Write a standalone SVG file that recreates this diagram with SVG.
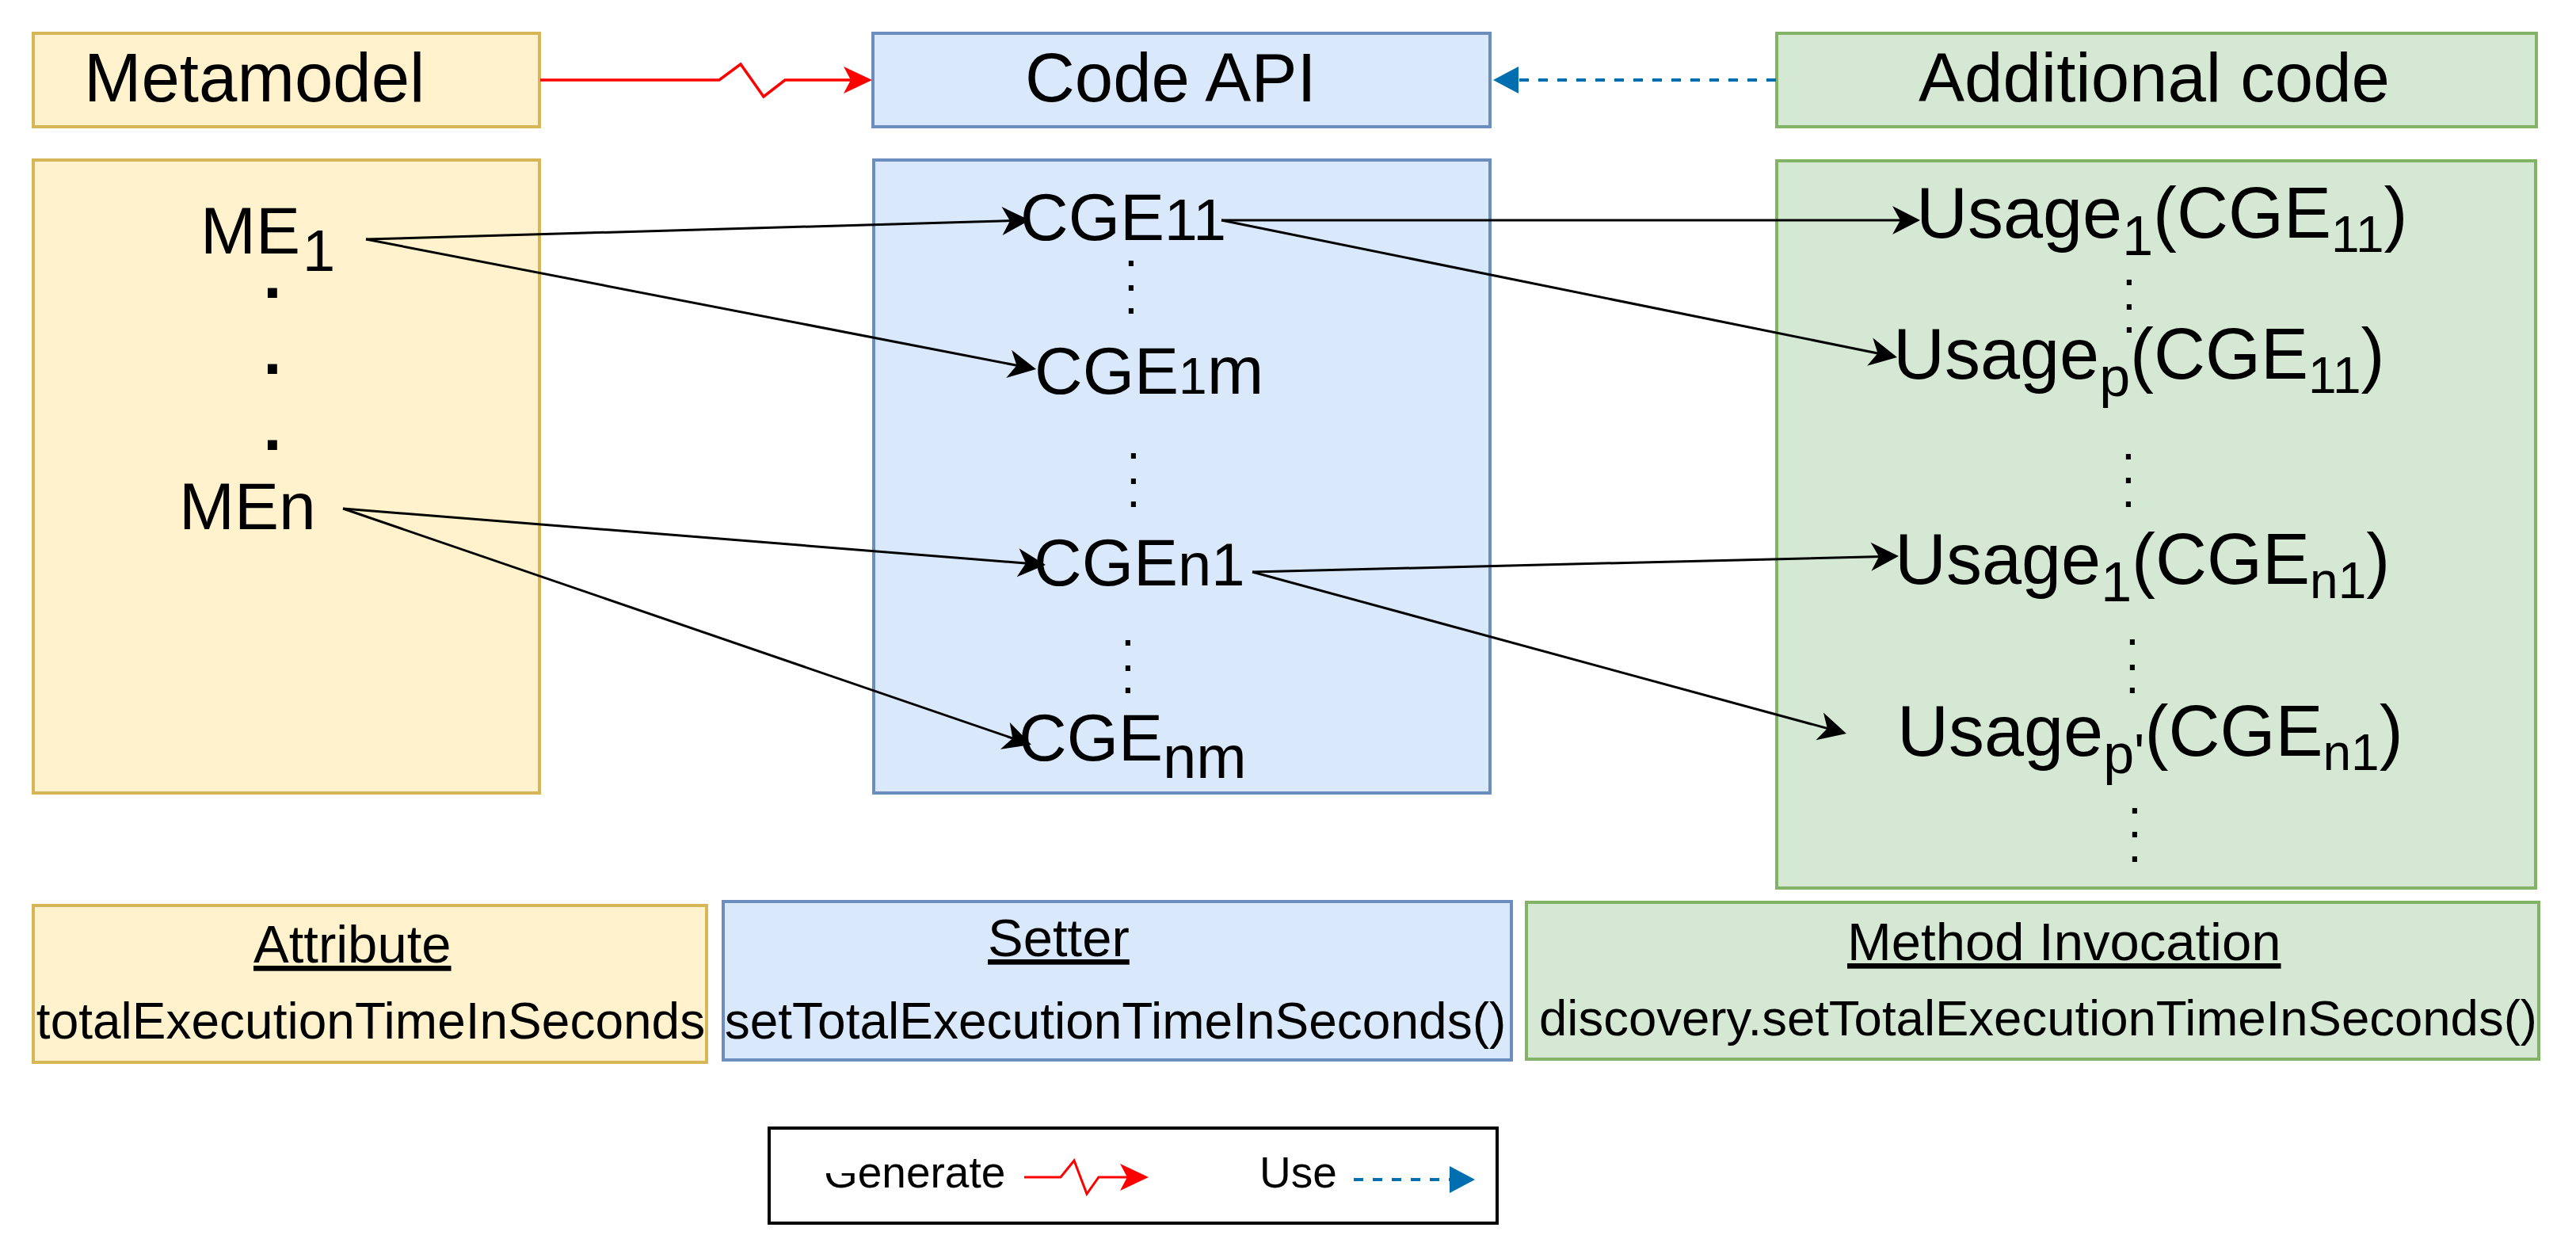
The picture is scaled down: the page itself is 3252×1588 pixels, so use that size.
<svg xmlns="http://www.w3.org/2000/svg" width="3252" height="1588" viewBox="0 0 3252 1588">
<defs>
<style>
text { font-family: "Liberation Sans", Arial, sans-serif; fill: #000000; }
.y { fill: #FFF2CC; stroke: #D6B656; stroke-width: 4; }
.b { fill: #DAE8FC; stroke: #6C8EBF; stroke-width: 4; }
.g { fill: #D5E8D4; stroke: #82B366; stroke-width: 4; }
.legend { fill: #FFFFFF; stroke: #000000; stroke-width: 4; }
.t86 { font-size: 87px; }
.t84 { font-size: 84px; }
.u88 { font-size: 90px; }
.dot { font-size: 64px; text-anchor: middle; }
.bdot { font-size: 84px; font-weight: bold; text-anchor: middle; }
.hdr { font-size: 67px; text-decoration: underline; }
.body { font-size: 64px; text-anchor: middle; }
.lg { font-size: 55px; }
.edge { fill: none; stroke: #000000; stroke-width: 3; marker-end: url(#arrowBlack); }
.gen { fill: none; stroke: #FF0000; stroke-width: 3.5; marker-end: url(#arrowRed); }
.use { fill: none; stroke: #006EAF; stroke-width: 4; stroke-dasharray: 12 12; marker-end: url(#arrowBlue); }
</style>
<marker id="arrowBlack" viewBox="-40 -20 44 40" markerWidth="44" markerHeight="40" refX="-10" refY="0" orient="auto" markerUnits="userSpaceOnUse">
<path d="M0,0 L-35,-18 L-25,0 L-35,18 Z" fill="#000000"/>
</marker>
<marker id="arrowRed" viewBox="-40 -20 44 40" markerWidth="44" markerHeight="40" refX="-10" refY="0" orient="auto" markerUnits="userSpaceOnUse">
<path d="M0,0 L-36,-17 L-27,0 L-36,17 Z" fill="#FF0000"/>
</marker>
<marker id="arrowBlue" viewBox="-40 -20 44 40" markerWidth="44" markerHeight="40" refX="-10" refY="0" orient="auto" markerUnits="userSpaceOnUse">
<path d="M0,0 L-32,-17 L-32,17 Z" fill="#006EAF"/>
</marker>
<clipPath id="genClip">
<path d="M1082,1400 H1300 V1560 H1082 Z M900,1481 H1300 V1560 H900 Z"/>
</clipPath>
</defs>
<rect x="0" y="0" width="3252" height="1588" fill="#FFFFFF"/>

<g id="metamodel">
<rect class="y" x="42" y="42" width="639" height="118"/>
<text class="t86" x="106" y="128">Metamodel</text>
</g>
<g id="code-api">
<rect class="b" x="1102" y="42" width="779" height="118"/>
<text class="t86" x="1294" y="128">Code API</text>
</g>
<g id="additional-code">
<rect class="g" x="2243" y="42" width="959" height="118"/>
<text class="t86" x="2422" y="128">Additional code</text>
</g>

<g id="metamodel-elements">
<rect class="y" x="42" y="202" width="639" height="799"/>
<text class="t84" x="253" y="320">ME<tspan font-size="74" dy="22" dx="3">1</tspan></text>
<text class="bdot"><tspan x="344" y="376">.</tspan><tspan x="344" y="472">.</tspan><tspan x="344" y="568">.</tspan></text>
<text class="t84" x="226" y="668">MEn</text>
</g>

<g id="code-api-elements">
<rect class="b" x="1103" y="202" width="778" height="799"/>
<text class="t84" x="1288" y="303">CGE<tspan font-size="75">11</tspan></text>
<text class="dot"><tspan x="1428" y="336">.</tspan><tspan x="1428" y="367">.</tspan><tspan x="1428" y="396">.</tspan></text>
<text class="t84" x="1306" y="497">CGE<tspan font-size="64">1</tspan><tspan font-size="86">m</tspan></text>
<text class="dot"><tspan x="1431" y="579">.</tspan><tspan x="1431" y="611">.</tspan><tspan x="1431" y="640">.</tspan></text>
<text class="t84" x="1305" y="739">CGE<tspan font-size="76">n1</tspan></text>
<text class="dot"><tspan x="1424" y="815">.</tspan><tspan x="1424" y="847">.</tspan><tspan x="1424" y="875">.</tspan></text>
<text class="t84" x="1286" y="960">CGE<tspan font-size="76" dy="22">nm</tspan></text>
</g>

<g id="additional-code-elements">
<rect class="g" x="2243" y="203" width="958" height="918"/>
<text class="u88" x="2419" y="300">Usage<tspan font-size="70" dy="22">1</tspan><tspan dy="-22">(CGE</tspan><tspan font-size="64" dy="18">11</tspan><tspan dy="-18">)</tspan></text>
<text class="dot"><tspan x="2688" y="360">.</tspan><tspan x="2688" y="391">.</tspan><tspan x="2688" y="420">.</tspan></text>
<text class="u88" x="2390" y="478">Usage<tspan font-size="70" dy="22">p</tspan><tspan dy="-22">(CGE</tspan><tspan font-size="64" dy="18">11</tspan><tspan dy="-18">)</tspan></text>
<text class="dot"><tspan x="2687" y="580">.</tspan><tspan x="2687" y="610">.</tspan><tspan x="2687" y="640">.</tspan></text>
<text class="u88" x="2392" y="737">Usage<tspan font-size="70" dy="22">1</tspan><tspan dy="-22">(CGE</tspan><tspan font-size="64" dy="18">n1</tspan><tspan dy="-18">)</tspan></text>
<text class="dot"><tspan x="2692" y="814">.</tspan><tspan x="2692" y="846">.</tspan><tspan x="2692" y="875">.</tspan></text>
<text class="u88" x="2395" y="954">Usage<tspan font-size="70" dy="22">p'</tspan><tspan dy="-22">(CGE</tspan><tspan font-size="64" dy="18">n1</tspan><tspan dy="-18">)</tspan></text>
<text class="dot"><tspan x="2695" y="1027">.</tspan><tspan x="2695" y="1057">.</tspan><tspan x="2695" y="1088">.</tspan></text>
</g>

<g id="attribute">
<rect class="y" x="42" y="1143" width="850" height="198"/>
<text class="hdr" x="320" y="1215">Attribute</text>
<text class="body" x="468" y="1311">totalExecutionTimeInSeconds</text>
</g>
<g id="setter">
<rect class="b" x="913" y="1138" width="995" height="200"/>
<text class="hdr" x="1247" y="1207">Setter</text>
<text class="body" x="1408" y="1311">setTotalExecutionTimeInSeconds()</text>
</g>
<g id="method-invocation">
<rect class="g" x="1927" y="1139" width="1278" height="198"/>
<text class="hdr" x="2332" y="1212">Method Invocation</text>
<text class="body" x="2573" y="1307" style="font-size:63.5px">discovery.setTotalExecutionTimeInSeconds()</text>
</g>

<g id="connectors">
<path class="gen" d="M682,101 L908,101 L935,81 L964,122 L991,101 L1091,101"/>
<path class="use" d="M2242,101 L1895,101"/>
<path class="edge" d="M462,302 L1290,278.3"/>
<path class="edge" d="M462,302 L1298.2,464.1"/>
<path class="edge" d="M433,642 L1310,712.2"/>
<path class="edge" d="M433,642 L1292.5,936.8"/>
<path class="edge" d="M1542,278 L2414,278"/>
<path class="edge" d="M1542,278 L2385.2,449"/>
<path class="edge" d="M1581,722 L2387,702.2"/>
<path class="edge" d="M1581,722 L2321.3,923.4"/>
</g>

<g id="legend">
<rect class="legend" x="971" y="1424" width="919" height="120"/>
<text class="lg" x="1040" y="1499" clip-path="url(#genClip)">Generate</text>
<path class="gen" style="stroke-width:3" d="M1293,1486 L1339,1486 L1356,1465 L1372,1507 L1387,1486 L1440,1486"/>
<text class="lg" x="1590" y="1499">Use</text>
<path class="use" d="M1709,1489 L1852,1489"/>
</g>
</svg>
